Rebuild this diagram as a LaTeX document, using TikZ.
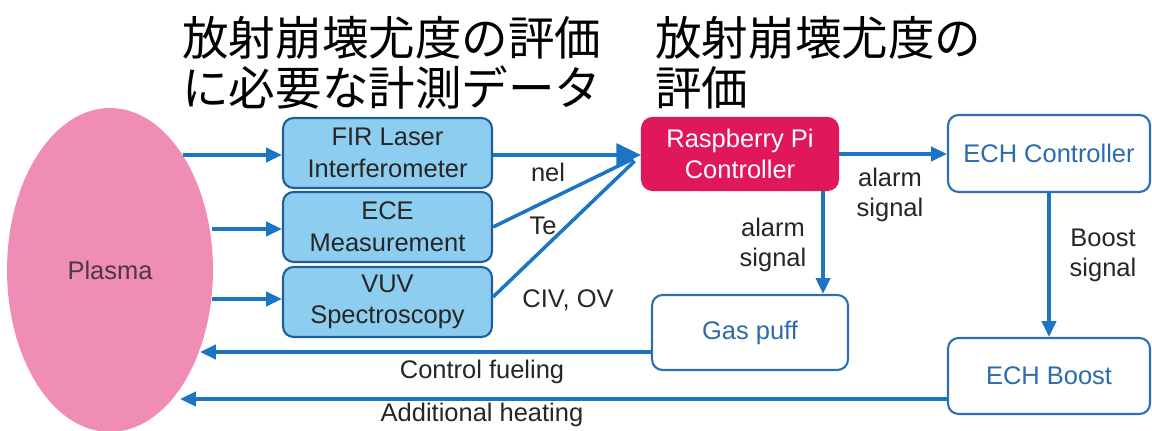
\documentclass[tikz,border=0pt]{standalone}
\usepackage{fontspec}
\setmainfont{Liberation Sans}
\newfontfamily\jpfont{Noto Sans CJK JP}
\usetikzlibrary{arrows.meta,shapes.geometric}
\definecolor{flowblue}{HTML}{1C74C4}
\definecolor{measfill}{HTML}{8DCDF0}
\definecolor{measedge}{HTML}{1F5F9A}
\definecolor{rpifill}{HTML}{E0185A}
\definecolor{outedge}{HTML}{2C6FB5}
\definecolor{outtext}{HTML}{2D6BAA}
\definecolor{plasmapink}{HTML}{F08DB5}
\definecolor{plasmatext}{HTML}{4A3A40}
\definecolor{darktext}{HTML}{262626}
\tikzset{
  flow/.style={flowblue, line width=2pt, -{Triangle[length=9pt,width=8pt]}},
  plainline/.style={flowblue, line width=2pt},
  boxbase/.style={rounded corners=6pt, line width=1.2pt, align=center,
    font=\fontsize{14.5}{18}\selectfont},
  measbox/.style={boxbase, draw=measedge, fill=measfill, text=darktext,
    minimum width=4.18cm, minimum height=1.4cm},
  rpibox/.style={boxbase, draw=rpifill, fill=rpifill, text=white,
    minimum width=3.92cm, minimum height=1.44cm},
  outbox/.style={boxbase, draw=outedge, fill=white, text=outtext},
  edgetext/.style={align=center, text=darktext, font=\fontsize{14.5}{17}\selectfont},
  heading/.style={anchor=west, align=left, inner sep=0pt,
    font=\jpfont\fontsize{26.5}{28.3}\selectfont}
}
\begin{document}
\begin{tikzpicture}[x=0.02cm, y=-0.02cm]
\useasboundingbox (0,0) rectangle (1152,431);

% plasma
\node[ellipse, fill=plasmapink, minimum width=4.12cm, minimum height=6.48cm,
  inner sep=0pt, text=plasmatext, font=\fontsize{14.5}{17}\selectfont] (plasma) at (110,270) {Plasma};

% headings
\node[heading] (headmeas) at (182,63) {放射崩壊尤度の評価\\に必要な計測データ};
\node[heading] (headeval) at (655,63) {放射崩壊尤度の\\評価};

% measurement boxes
\node[measbox] (fir) at (387.5,153) {FIR Laser\\Interferometer};
\node[measbox] (ece) at (387.5,227) {ECE\\Measurement};
\node[measbox] (vuv) at (387.5,302) {VUV\\Spectroscopy};

% controllers and actuators
\node[rpibox] (rpi) at (740,154) {Raspberry Pi\\Controller};
\node[outbox, minimum width=4.04cm, minimum height=1.54cm] (echc) at (1049,153.5) {ECH Controller};
\node[outbox, minimum width=3.92cm, minimum height=1.5cm] (gas) at (750,332.5) {Gas puff};
\node[outbox, minimum width=4.04cm, minimum height=1.52cm] (echb) at (1049,376) {ECH Boost};

% free ends at the plasma edge
\coordinate (infir) at (183,155);
\coordinate (inece) at (212,229);
\coordinate (invuv) at (212,299);
\coordinate (fuelend) at (200,352);
\coordinate (heatend) at (180,399);

% plasma to measurements
\draw[flow] (infir) -- (fir.west |- infir);
\draw[flow] (inece) -- (ece.west |- inece);
\draw[flow] (invuv) -- (vuv.west |- invuv);

% measurements to controller
\draw[plainline, shorten >=5pt] (ece.east) -- (rpi.west |- infir);
\draw[plainline, shorten >=5pt] ([yshift=0.1cm]vuv.east) -- (rpi.west |- infir);
\draw[flow, -{Triangle[length=14pt,width=13pt]}] (fir.east |- infir) -- (rpi.west |- infir);
\node[edgetext] (nel) at (548,172) {nel};
\node[edgetext] (te) at (543,226) {Te};
\node[edgetext] (civ) at (568,300) {CIV, OV};

% controller outputs
\draw[flow] (rpi.east) -- (echc.west |- rpi.east);
\node[edgetext] (alarmright) at (890,195) {alarm\\signal};
\draw[flow] ([xshift=-0.32cm]rpi.south east) -- ([xshift=-0.32cm]rpi.south east |- gas.north);
\node[edgetext] (alarmdown) at (773,245) {alarm\\signal};
\draw[flow] (echc.south) -- (echb.north);
\node[edgetext] (boost) at (1103,255) {Boost\\signal};

% actuators back to plasma
\draw[flow] (gas.west |- fuelend) -- (fuelend);
\node[edgetext] (fuel) at (482,372) {Control fueling};
\draw[flow] (echb.west |- heatend) -- (heatend);
\node[edgetext] (heat) at (482,415) {Additional heating};
\end{tikzpicture}
\end{document}
